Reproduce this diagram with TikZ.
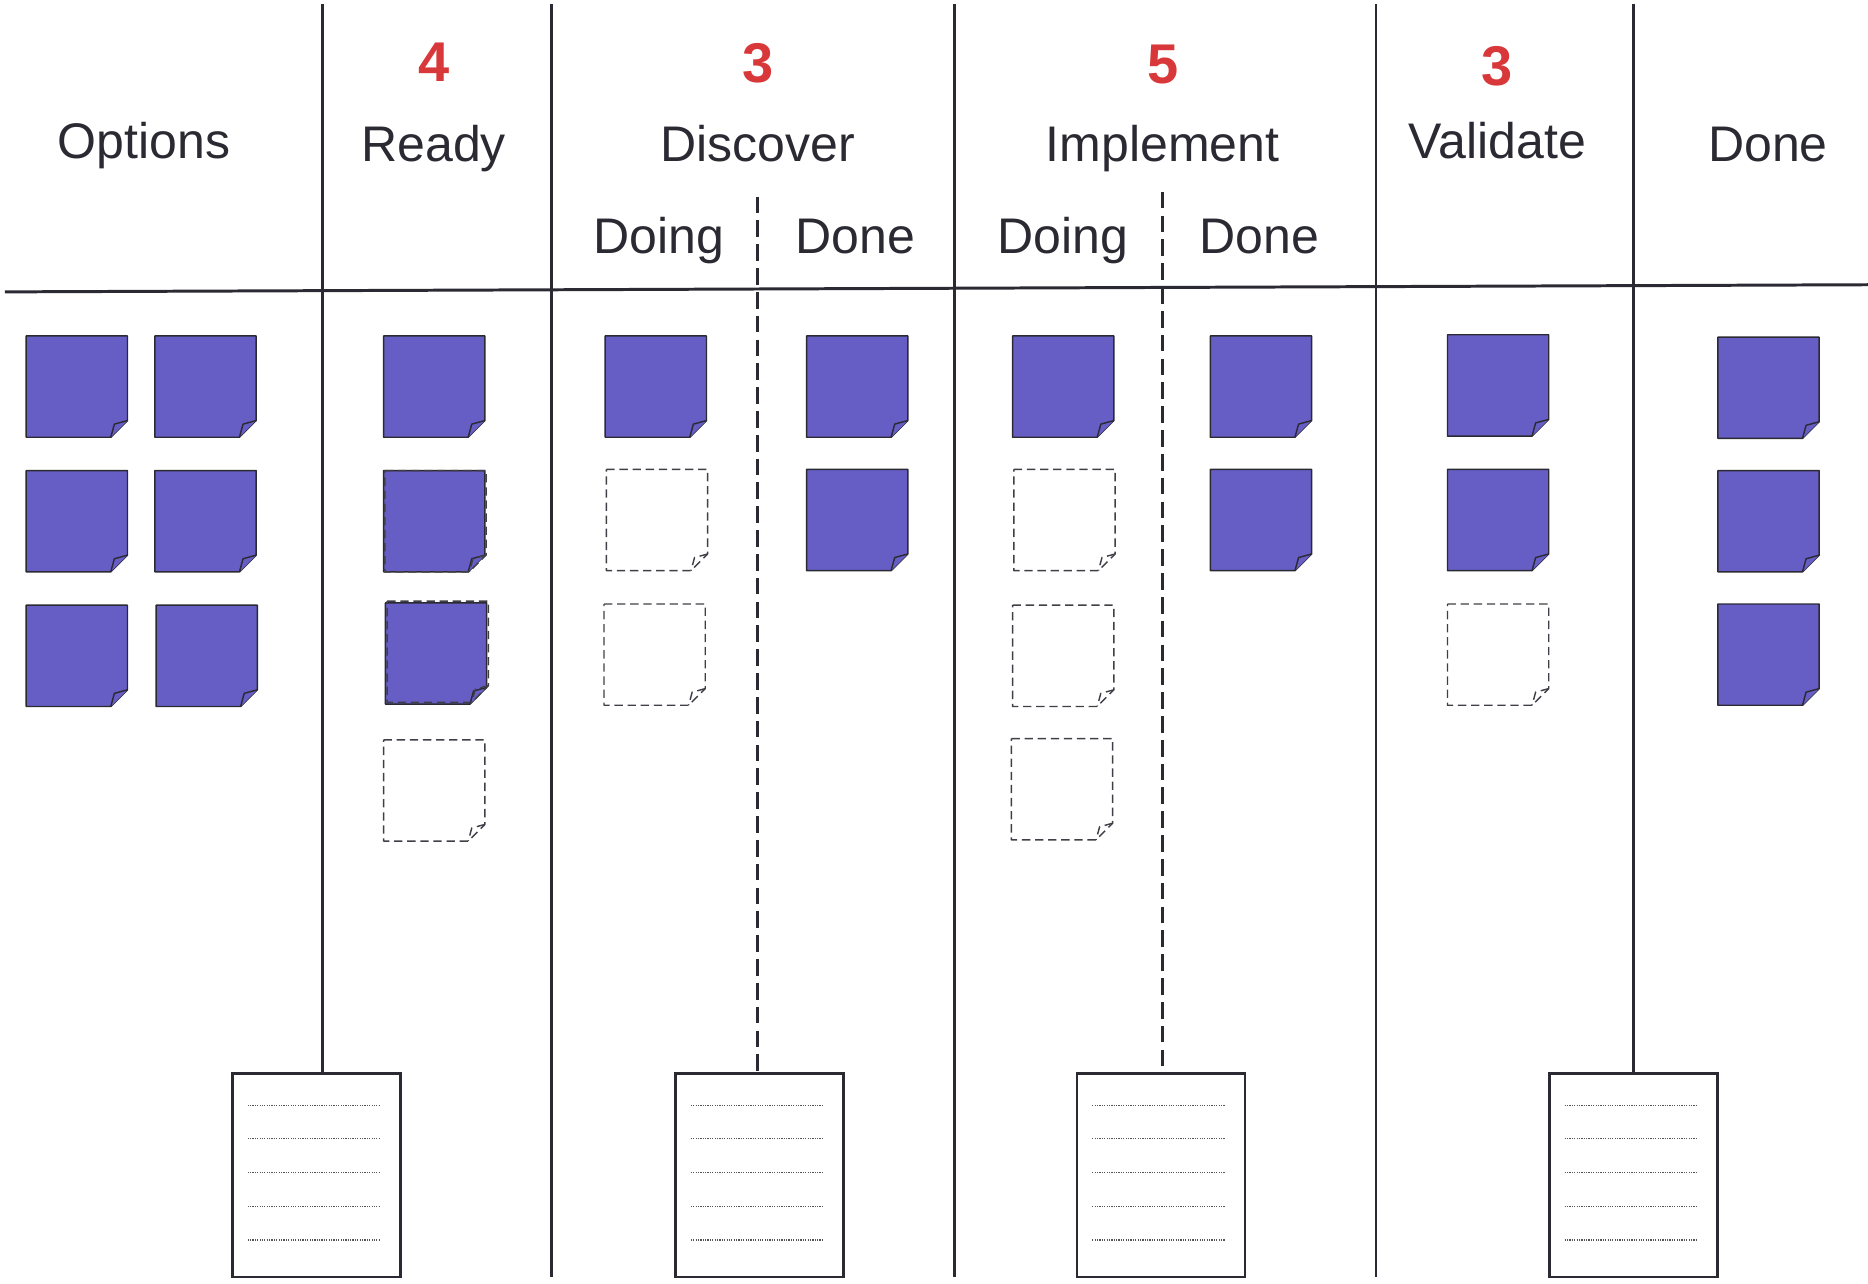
\documentclass[tikz,border=0pt]{standalone}
\usepackage{fontspec}
\setmainfont{Liberation Sans}
\definecolor{inkc}{HTML}{2B2A33}
\definecolor{stickyfill}{HTML}{665EC4}
\definecolor{redc}{HTML}{D8383A}
\definecolor{dotc}{HTML}{555555}
\newcommand{\mysticky}[3]{%
  \draw[#1] (#2,#3) -- (#2+85,#3) -- (#2+85,#3+71) -- (#2+71,#3+85) -- (#2,#3+85) -- cycle;
  \draw[#1] (#2+85,#3+71) -- (#2+74,#3+74) -- (#2+71,#3+85);}
\begin{document}
\begin{tikzpicture}[x=1pt,y=-1pt,
  board/.style={draw=inkc, line width=2.5pt},
  subdiv/.style={draw=inkc, line width=2.3pt, dash pattern=on 14pt off 6pt},
  filledsticky/.style={fill=stickyfill, draw=inkc, line width=1.2pt, line join=round},
  emptysticky/.style={draw=inkc!90, line width=1.2pt, dash pattern=on 7pt off 4pt, line join=round},
  docbox/.style={draw=inkc, line width=2.3pt, fill=white, minimum width=141pt, minimum height=171pt, inner sep=0pt},
  dotline/.style={draw=dotc, line width=1pt, dash pattern=on 1pt off 1pt},
  head/.style={anchor=base, inner sep=0pt, text=inkc, font=\fontsize{42}{50}\selectfont},
  wip/.style={anchor=base, inner sep=0pt, text=redc, font=\fontsize{47}{56}\selectfont\bfseries}]
\useasboundingbox (0,0) rectangle (1568,1077);
\fill[white] (0,0) rectangle (1568,1077);

% document boxes
\node[docbox] (d1) at (265.5,986.5) {};
\node[docbox] (d2) at (637.5,986.5) {};
\node[docbox] (d3) at (974.5,986.5) {};
\node[docbox] (d4) at (1371,986.5) {};
\foreach \d in {d1,d2,d3,d4}{
  \foreach \k in {28,56,84.5,113,141}{
    \draw[dotline] ([xshift=14pt,yshift=-\k pt]\d.north west) -- ([xshift=126pt,yshift=-\k pt]\d.north west);
  }
}

% board lines
\coordinate (hl) at (4,245);
\coordinate (hr) at (1568,239);
\draw[board] (hl) -- (hr);
\coordinate (t1) at (271,3);
\coordinate (t2) at (463,3);
\coordinate (t3) at (801,3);
\coordinate (t4) at (1155,3);
\coordinate (t5) at (1371,3);
\coordinate (b2) at (463,1072);
\coordinate (b3) at (801,1072);
\coordinate (b4) at (1155,1072);
\draw[board] (t1) -- (t1 |- d1.north);
\draw[board] (t2) -- (b2);
\draw[board] (t3) -- (b3);
\draw[board] (t4) -- (b4);
\draw[board] (t5) -- (t5 |- d4.north);
\coordinate (s1) at (636,165);
\coordinate (s2) at (976,161);
\draw[subdiv] (s1) -- (s1 |- d2.north);
\draw[subdiv] (s2) -- (s2 |- d3.north);

% headings
\node[head] (hOptions) at (121,133) {Options};
\node[head] (hReady) at (364,135.5) {Ready};
\node[head] (hDiscover) at (636,135.5) {Discover};
\node[head] (hImplement) at (976,135.5) {Implement};
\node[head] (hValidate) at (1257,133) {Validate};
\node[head] (hDone) at (1484,135.5) {Done};
\node[head] (dDoing) at (553,212.5) {Doing};
\node[head] (dDone) at (718,212.5) {Done};
\node[head] (iDoing) at (892,212.5) {Doing};
\node[head] (iDone) at (1057,212.5) {Done};
\node[wip] (wReady) at (364,68.5) {4};
\node[wip] (wDiscover) at (636,69.5) {3};
\node[wip] (wImplement) at (976,70) {5};
\node[wip] (wValidate) at (1257,71.5) {3};

% Options
\mysticky{filledsticky}{22}{282}
\mysticky{filledsticky}{130}{282}
\mysticky{filledsticky}{22}{395}
\mysticky{filledsticky}{130}{395}
\mysticky{filledsticky}{22}{508}
\mysticky{filledsticky}{131}{508}
% Ready
\mysticky{filledsticky}{322}{282}
\mysticky{filledsticky}{322}{395}
\mysticky{emptysticky}{323}{395}
\mysticky{filledsticky}{323.5}{506}
\mysticky{emptysticky}{325}{504.5}
\mysticky{emptysticky}{322}{621}
% Discover
\mysticky{filledsticky}{508}{282}
\mysticky{emptysticky}{509}{394}
\mysticky{emptysticky}{507}{507}
\mysticky{filledsticky}{677}{282}
\mysticky{filledsticky}{677}{394}
% Implement
\mysticky{filledsticky}{850}{282}
\mysticky{emptysticky}{851}{394}
\mysticky{emptysticky}{850}{508}
\mysticky{emptysticky}{849}{620}
\mysticky{filledsticky}{1016}{282}
\mysticky{filledsticky}{1016}{394}
% Validate
\mysticky{filledsticky}{1215}{281}
\mysticky{filledsticky}{1215}{394}
\mysticky{emptysticky}{1215}{507}
% Done
\mysticky{filledsticky}{1442}{283}
\mysticky{filledsticky}{1442}{395}
\mysticky{filledsticky}{1442}{507}
\end{tikzpicture}
\end{document}
